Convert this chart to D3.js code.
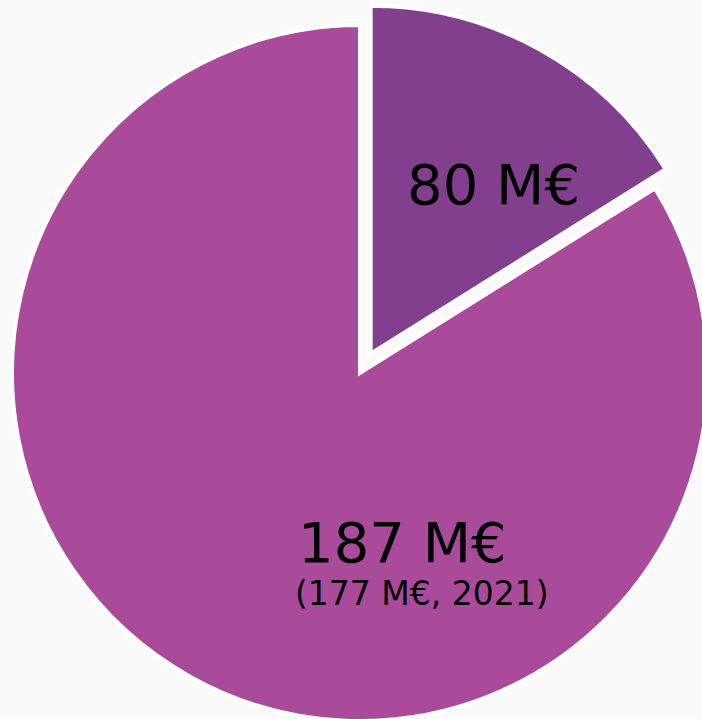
<!DOCTYPE html>
<html>
<head>
<meta charset="utf-8">
<script src="https://cdn.jsdelivr.net/npm/d3@7"></script>
<style>
  body { margin: 0; background: #fafafa; }
  svg { display: block; }
  .pie-label { font-family: "DejaVu Sans", Verdana, sans-serif; fill: #000; }
</style>
</head>
<body>
<div id="chart"></div>
<script>
// slices, clockwise from 12 o'clock
const sliceNames = ['part', 'rest'];
const sliceShares = [0.161, 0.839];   // angle shares
const sliceColors = ['#823f8d', '#a94a9b'];
const sliceExplode = [22, 0];
const mainLabels = ['80 M€', '187 M€'];
const subLabels = ['', '(177 M€, 2021)'];

const width = 702, height = 719;
const cx = 360, cy = 373, radius = 348;

const svg = d3.select('#chart').append('svg')
    .attr('width', width)
    .attr('height', height);

svg.append('rect')
    .attr('width', width)
    .attr('height', height)
    .attr('fill', '#fafafa');

const pie = d3.pie().sort(null).value(d => d.share);
const arc = d3.arc().innerRadius(0).outerRadius(radius);

const data = sliceNames.map((n, i) => ({
  name: n, share: sliceShares[i], color: sliceColors[i],
  explode: sliceExplode[i], label: mainLabels[i], sub: subLabels[i]
}));

const g = svg.append('g')
    .attr('transform', `translate(${cx},${cy})`);

const slices = g.selectAll('g.slice')
  .data(pie(data))
  .join('g')
    .attr('class', 'slice')
    .attr('transform', d => {
      const a = (d.startAngle + d.endAngle) / 2;
      const o = d.data.explode;
      return `translate(${Math.sin(a) * o},${-Math.cos(a) * o})`;
    });

slices.append('path')
    .attr('d', arc)
    .attr('fill', d => d.data.color)
    .attr('stroke', '#ffffff')
    .attr('stroke-width', 4)
    .attr('stroke-linejoin', 'miter');

// label offsets relative to the pie centre
const labelPos = [{x: 47, y: -169}, {x: -62, y: 189}];
const subPos = [{x: 0, y: 0}, {x: -65, y: 232}];

g.selectAll('text.main')
  .data(data)
  .join('text')
    .attr('class', 'pie-label main')
    .attr('x', (d, i) => labelPos[i].x)
    .attr('y', (d, i) => labelPos[i].y)
    .attr('font-size', 56)
    .text(d => d.label);

g.selectAll('text.sub')
  .data(data.filter(d => d.sub))
  .join('text')
    .attr('class', 'pie-label sub')
    .attr('x', subPos[1].x)
    .attr('y', subPos[1].y)
    .attr('font-size', 33)
    .text(d => d.sub);
</script>
</body>
</html>
